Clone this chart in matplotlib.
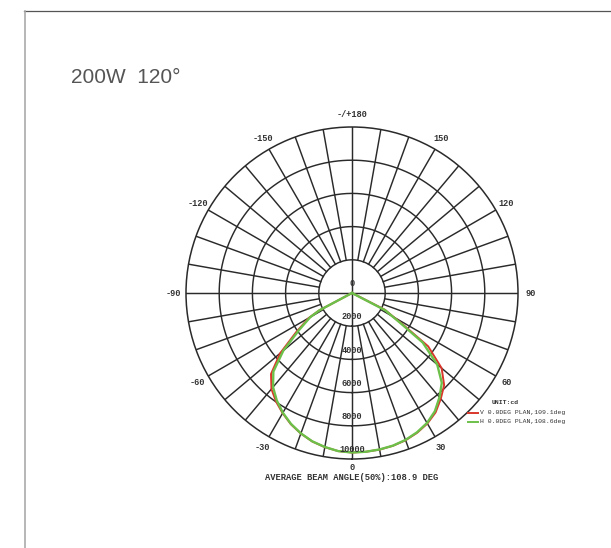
import numpy as np
import matplotlib
matplotlib.use("Agg")
import matplotlib.pyplot as plt
from matplotlib.lines import Line2D

# photometric data (angle in deg, intensity in cd)
angles_h = [-62, -62, -60, -55, -50, -45, -40, -35, -30, -25, -20, -15, -10, -5,
            0, 5, 10, 15, 20, 25, 30, 35, 40, 45, 50, 55, 58, 60, 62.5, 62.5]
cd_h = [0, 2200, 2900, 3900, 5400, 6700, 7400, 7900, 8330, 8700, 9000, 9250, 9420, 9560,
        9610, 9600, 9570, 9520, 9420, 9260, 9040, 8700, 8200, 7650, 6700, 5200, 3500, 2800, 2250, 0]

angles_v = [-62, -62, -60, -55, -50, -45, -40, -35, -30, -25, -20, -15, -10, -5,
            0, 5, 10, 15, 20, 25, 30, 35, 40, 45, 50, 55, 58, 60, 63, 63]
cd_v = [0, 2250, 3000, 4100, 5650, 6900, 7550, 7980, 8360, 8720, 9010, 9260, 9430, 9560,
        9610, 9600, 9580, 9530, 9440, 9290, 9080, 8780, 8320, 7850, 7050, 5600, 3700, 2900, 2200, 0]

ring_values = [2000, 4000, 6000, 8000, 10000]
angle_ticks = [0, 30, 60, 90, 120, 150, 180, -150, -120, -90, -60, -30]
angle_labels = ["0", "30", "60", "90", "120", "150", "-/+180", "-150", "-120", "-90", "-60", "-30"]

legend_labels = ["V 0.0DEG PLAN,109.1deg", "H 0.0DEG PLAN,108.6deg"]
beam_text = "AVERAGE BEAM ANGLE(50%):108.9 DEG"
title = "200W  120\u00b0"

RED = "#d9372a"
GREEN = "#6cc04a"
GRID = "#2a2a2a"
INK = "#333333"
MONO = "Liberation Mono"

W, H = 611, 548
fig = plt.figure(figsize=(W / 100, H / 100), dpi=100)

# page frame
fig.add_artist(Line2D([24 / W, 1], [1 - 11 / H, 1 - 11 / H], color="#555555", lw=0.9))
fig.add_artist(Line2D([25 / W, 25 / W], [0, 1 - 11 / H], color="#aaaaaa", lw=1.2))
fig.text(71 / W, 1 - 83 / H, title, fontsize=15, color="#555555",
         family="Liberation Sans", va="baseline", ha="left")

cx, cy, rad = 352, 293, 166
ax = fig.add_axes([(cx - rad) / W, (H - cy - rad) / H, 2 * rad / W, 2 * rad / H],
                  projection="polar")
ax.set_theta_zero_location("S")
ax.set_theta_direction(1)
ax.set_rlim(0, 10000)
ax.grid(False)
ax.set_xticks([])
ax.set_yticks([])
ax.spines["polar"].set_color(GRID)
ax.spines["polar"].set_linewidth(1.1)

# rings and spokes
t = np.linspace(0, 2 * np.pi, 361)
for r in ring_values[:-1]:
    ax.plot(t, np.full_like(t, r), color=GRID, lw=1.05)
for a in range(0, 360, 10):
    r0 = 0 if a % 90 == 0 else ring_values[0]
    ax.plot([np.deg2rad(a)] * 2, [r0, 10000], color=GRID, lw=1.05)

# curves
lv, = ax.plot(np.deg2rad(angles_v), cd_v, color=RED, lw=1.4)
lh, = ax.plot(np.deg2rad(angles_h), cd_h, color=GREEN, lw=1.7)

# labels
for a, lab in zip(angle_ticks, angle_labels):
    r = 10520 if a == 0 else 10750
    ax.text(np.deg2rad(a), r, lab, ha="center", va="center", fontsize=6.2,
            family=MONO, color=INK, weight="bold")
for v in ring_values:
    ax.text(0, v - 560, str(v), ha="center", va="center", fontsize=6.2,
            family=MONO, color=INK, weight="bold")
ax.text(np.pi, 550, "0", ha="center", va="center", fontsize=6.2, family=MONO,
        color=INK, weight="bold")

fig.text(cx / W, 1 - 477 / H, beam_text, ha="center", va="center", fontsize=6.3,
         family=MONO, color=INK, weight="bold")

# legend, drawn by hand
fig.text(492 / W, 1 - 402 / H, "UNIT:cd", ha="left", va="center", fontsize=4.6,
         family=MONO, color=INK, weight="bold")
for i, (ln, lab) in enumerate(zip([lv, lh], legend_labels)):
    y = 1 - (412.7 + 9 * i) / H
    fig.add_artist(Line2D([468 / W, 478 / W], [y, y], color=ln.get_color(), lw=1.4))
    fig.text(480 / W, y, lab, ha="left", va="center", fontsize=4.6,
             family=MONO, color=INK)

fig.savefig("out.png", dpi=100)
